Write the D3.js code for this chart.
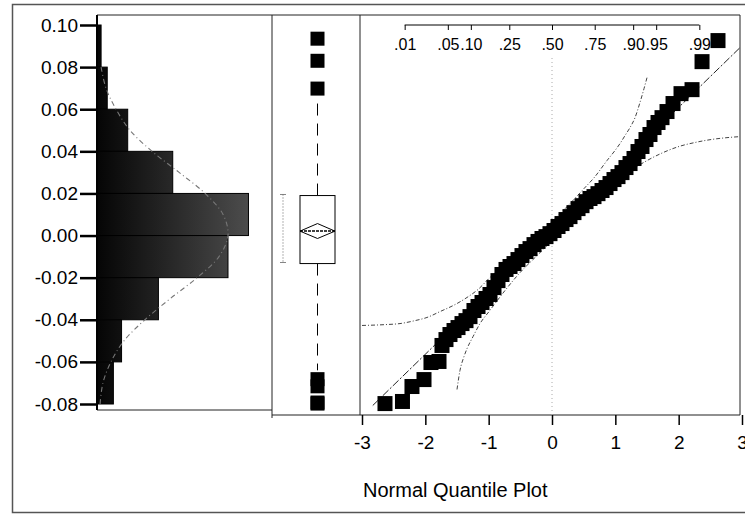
<!DOCTYPE html>
<html><head><meta charset="utf-8">
<script src="https://cdn.jsdelivr.net/npm/d3@7"></script>
<style>
html,body{margin:0;padding:0;background:#fff;}
svg{display:block;font-family:"Liberation Sans",Arial,Helvetica,sans-serif;}
</style></head><body>
<svg id="chart" width="745" height="516"></svg>
<script>
// ---------- data ----------
const yTickValues = [0.10,0.08,0.06,0.04,0.02,0.00,-0.02,-0.04,-0.06,-0.08];
const histLower = [0.08,0.06,0.04,0.02,0.00,-0.02,-0.04,-0.06,-0.08];
const histBinWidth = 0.02;
const histCounts = [2,5,15,37,74,64,30,12,8];
const densValues = [0.08,0.07,0.06,0.05,0.04,0.03,0.02,0.01,0.00,-0.01,-0.02,-0.03,-0.04,-0.05,-0.06,-0.07,-0.08];
const densCounts = [2.0,4.4,9.3,16.1,26.9,40.1,52.8,61.6,64.0,59.6,48.9,35.7,23.4,13.2,6.8,2.9,1.5];

const boxQ1 = -0.0133, boxMedian = 0.0022, boxQ3 = 0.0190;
const whiskerLo = -0.0640, whiskerHi = 0.0655;
const meanVal = 0.0021, meanLo = -0.0014, meanHi = 0.0057;
const shortHalfLo = -0.0128, shortHalfHi = 0.0195;
const outliers = [0.0935, 0.0830, 0.0698, -0.0682, -0.0716, -0.0793, -0.0798];

const qz = [-2.637,-2.361,-2.211,-2.021,-1.911,-1.784,-1.737,-1.674,-1.611,-1.547,-1.484,-1.421,-1.358,-1.295,-1.232,-1.168,-1.105,-1.042,
  -0.979,-0.916,-0.853,-0.790,-0.726,-0.663,-0.600,-0.537,-0.474,-0.411,-0.347,-0.284,-0.221,-0.158,-0.095,-0.032,
  0.032,0.095,0.158,0.221,0.284,0.347,0.411,0.474,0.537,0.600,0.663,0.726,0.790,0.853,0.916,0.979,1.042,1.105,1.168,1.232,
  1.295,1.358,1.421,1.484,1.547,1.611,1.674,1.737,1.816,1.911,2.037,2.211,2.369,2.621];
const qv = [-0.0798,-0.0788,-0.0717,-0.0684,-0.0603,-0.0598,-0.0522,-0.0494,-0.0470,-0.0451,-0.0437,-0.0418,-0.0404,-0.0385,-0.0356,-0.0337,-0.0318,-0.0299,
  -0.0280,-0.0247,-0.0214,-0.0185,-0.0161,-0.0147,-0.0133,-0.0114,-0.0095,-0.0076,-0.0062,-0.0043,-0.0028,-0.0014,-0.0005,0.0009,
  0.0024,0.0043,0.0057,0.0076,0.0090,0.0109,0.0128,0.0142,0.0161,0.0176,0.0185,0.0199,0.0214,0.0228,0.0247,0.0266,0.0280,0.0299,0.0323,0.0342,
  0.0366,0.0399,0.0423,0.0456,0.0480,0.0513,0.0537,0.0560,0.0589,0.0627,0.0674,0.0693,0.0826,0.0926];

const refZ = [-2.83, 2.97];
const refV = [-0.0807, 0.0893];

const upZ = [-3.0,-2.637,-2.40,-2.163,-1.974,-1.768,-1.532,-1.342,-1.168,-0.979,-0.742,-0.505,-0.268,0.0,0.253,0.505,0.679,0.868,0.995,1.074,1.153,1.232,1.311,1.389,1.453,1.500];
const upV = [-0.0427,-0.0423,-0.0418,-0.0404,-0.0389,-0.0361,-0.0328,-0.0294,-0.0256,-0.0199,-0.0138,-0.0076,-0.0009,0.0066,0.0142,0.0223,0.0280,0.0356,0.0404,0.0437,0.0475,0.0513,0.0560,0.0632,0.0698,0.0750];
const loZ = [-1.500,-1.453,-1.390,-1.342,-1.247,-1.137,-0.995,-0.742,-0.505,-0.253,0.0,0.253,0.505,0.758,0.995,1.247,1.500,1.753,2.005,2.258,2.511,2.763,2.969];
const loV = [-0.0731,-0.0641,-0.0575,-0.0537,-0.0480,-0.0418,-0.0361,-0.0261,-0.0176,-0.0100,-0.0024,0.0052,0.0119,0.0185,0.0247,0.0309,0.0356,0.0394,0.0423,0.0442,0.0456,0.0465,0.0470];

const xTickValues = [-3,-2,-1,0,1,2,3];
const probTicks = [0.01,0.05,0.10,0.25,0.50,0.75,0.90,0.95,0.99];
const probLabels = [".01",".05",".10",".25",".50",".75",".90",".95",".99"];
const xTitle = "Normal Quantile Plot";

// ---------- helpers ----------
function qnorm(p){ // Acklam inverse normal CDF
  const a=[-3.969683028665376e+01,2.209460984245205e+02,-2.759285104469687e+02,1.383577518672690e+02,-3.066479806614716e+01,2.506628277459239e+00];
  const b=[-5.447609879822406e+01,1.615858368580409e+02,-1.556989798598866e+02,6.680131188771972e+01,-1.328068155288572e+01];
  const c=[-7.784894002430293e-03,-3.223964580411365e-01,-2.400758277161838e+00,-2.549732539343734e+00,4.374664141464968e+00,2.938163982698783e+00];
  const d=[7.784695709041462e-03,3.224671290700398e-01,2.445134137142996e+00,3.754408661907416e+00];
  const pl=0.02425, ph=1-pl; let q,r;
  if(p<pl){q=Math.sqrt(-2*Math.log(p));return (((((c[0]*q+c[1])*q+c[2])*q+c[3])*q+c[4])*q+c[5])/((((d[0]*q+d[1])*q+d[2])*q+d[3])*q+1);}
  if(p>ph){q=Math.sqrt(-2*Math.log(1-p));return -(((((c[0]*q+c[1])*q+c[2])*q+c[3])*q+c[4])*q+c[5])/((((d[0]*q+d[1])*q+d[2])*q+d[3])*q+1);}
  q=p-0.5; r=q*q;
  return (((((a[0]*r+a[1])*r+a[2])*r+a[3])*r+a[4])*r+a[5])*q/(((((b[0]*r+b[1])*r+b[2])*r+b[3])*r+b[4])*r+1);
}

// ---------- layout ----------
const svg = d3.select("#chart");
const panelTop = 15, panelBot = 415, histBot = 410;
const histL = 97, histR = 272, boxR = 360, qR = 740;
const sq = 15;

const y = d3.scaleLinear().domain([-0.08, 0.10]).range([404, 25]);
const hx = d3.scaleLinear().domain([0, 85.5]).range([histL, histR]);
const x = d3.scaleLinear().domain([-3, 3]).range([362, 742]);
const boxC = 317.5, boxHalf = 17.5;

// outer frame
svg.append("rect").attr("x",12.5).attr("y",4.5).attr("width",760).attr("height",508)
  .attr("fill","none").attr("stroke","#555").attr("stroke-width",1.5);

// gradient for histogram bars
const defs = svg.append("defs");
const grad = defs.append("linearGradient").attr("id","hg").attr("gradientUnits","userSpaceOnUse")
  .attr("x1",histL).attr("x2",250).attr("y1",0).attr("y2",0);
grad.append("stop").attr("offset","0%").attr("stop-color","#050505");
grad.append("stop").attr("offset","35%").attr("stop-color","#1e1e1e");
grad.append("stop").attr("offset","100%").attr("stop-color","#4d4d4d");

// panel lines
const frame = svg.append("g").attr("stroke","#222").attr("fill","none");
frame.append("line").attr("x1",histL).attr("x2",qR).attr("y1",panelTop).attr("y2",panelTop).attr("stroke-width",1);
frame.append("line").attr("x1",histL).attr("x2",histR).attr("y1",histBot).attr("y2",histBot).attr("stroke-width",1);
frame.append("line").attr("x1",histR).attr("x2",qR).attr("y1",panelBot).attr("y2",panelBot).attr("stroke-width",1.2);
frame.append("line").attr("x1",histR).attr("x2",histR).attr("y1",panelTop).attr("y2",panelBot+3).attr("stroke-width",1);
frame.append("line").attr("x1",boxR).attr("x2",boxR).attr("y1",panelTop).attr("y2",panelBot).attr("stroke-width",1);
frame.append("line").attr("x1",qR).attr("x2",qR).attr("y1",panelTop).attr("y2",panelBot).attr("stroke-width",1);

// ---------- histogram ----------
svg.append("g").selectAll("rect").data(histLower).join("rect")
  .attr("x", hx(0))
  .attr("y", d => y(d + histBinWidth))
  .attr("width", (d,i) => hx(histCounts[i]) - hx(0))
  .attr("height", d => y(d) - y(d + histBinWidth))
  .attr("fill","url(#hg)").attr("stroke","#000").attr("stroke-width",1);

const densLine = d3.line().x((d,i)=>hx(densCounts[i])).y(d=>y(d)).curve(d3.curveCatmullRom);
svg.append("path").attr("d", densLine(densValues)).attr("fill","none")
  .attr("stroke","#777").attr("stroke-width",1.1).attr("stroke-dasharray","5,3,1,3");

// y axis
const gy = svg.append("g").attr("transform",`translate(${histL},0)`)
  .call(d3.axisLeft(y).tickValues(yTickValues).tickFormat(d=>d.toFixed(2)).tickSize(17).tickPadding(2));
gy.select(".domain").remove();
gy.attr("font-size",19).attr("font-family",null);
gy.selectAll(".tick line").attr("stroke","#000").attr("stroke-width",2.5);
gy.selectAll(".tick text").attr("fill","#000");
svg.append("line").attr("x1",histL).attr("x2",histL).attr("y1",panelTop).attr("y2",histBot)
  .attr("stroke","#000").attr("stroke-width",2);

// ---------- box plot ----------
const bp = svg.append("g").attr("stroke","#000").attr("fill","none");
bp.append("line").attr("x1",boxC).attr("x2",boxC).attr("y1",y(boxQ3)).attr("y2",y(whiskerHi))
  .attr("stroke-dasharray","12,8").attr("stroke-width",1);
bp.append("line").attr("x1",boxC).attr("x2",boxC).attr("y1",y(boxQ1)).attr("y2",y(whiskerLo))
  .attr("stroke-dasharray","12,8").attr("stroke-width",1);
bp.append("rect").attr("x",boxC-boxHalf).attr("y",y(boxQ3)).attr("width",boxHalf*2)
  .attr("height",y(boxQ1)-y(boxQ3)).attr("fill","#fff").attr("stroke-width",1);
bp.append("line").attr("x1",boxC-boxHalf).attr("x2",boxC+boxHalf).attr("y1",y(boxMedian)).attr("y2",y(boxMedian))
  .attr("stroke-width",1.5).attr("stroke-dasharray","3,1");
bp.append("path").attr("d",`M${boxC-boxHalf},${y(meanVal)}L${boxC},${y(meanHi)}L${boxC+boxHalf},${y(meanVal)}L${boxC},${y(meanLo)}Z`)
  .attr("stroke-width",1);
// shortest half bracket
bp.append("line").attr("x1",283).attr("x2",283).attr("y1",y(shortHalfHi)).attr("y2",y(shortHalfLo))
  .attr("stroke","#666").attr("stroke-dasharray","1,2");
[shortHalfHi, shortHalfLo].forEach(v=>{
  bp.append("line").attr("x1",280).attr("x2",286).attr("y1",y(v)).attr("y2",y(v)).attr("stroke","#666").attr("stroke-width",0.8);
});
svg.append("g").selectAll("rect").data(outliers).join("rect")
  .attr("x",boxC-7).attr("y",d=>y(d)-7).attr("width",14).attr("height",14).attr("fill","#000");

// ---------- quantile plot ----------
svg.append("line").attr("x1",x(0)).attr("x2",x(0)).attr("y1",58).attr("y2",panelBot)
  .attr("stroke","#aaa").attr("stroke-width",1).attr("stroke-dasharray","1,3");

const bandLine = d3.line().x(d=>x(d[0])).y(d=>y(d[1])).curve(d3.curveMonotoneX);
svg.append("path").attr("d", bandLine(upZ.map((z,i)=>[z,upV[i]]))).attr("fill","none")
  .attr("stroke","#444").attr("stroke-width",1).attr("stroke-dasharray","4,2,1,2");
svg.append("path").attr("d", bandLine(loZ.map((z,i)=>[z,loV[i]]))).attr("fill","none")
  .attr("stroke","#444").attr("stroke-width",1).attr("stroke-dasharray","4,2,1,2");
svg.append("line").attr("x1",x(refZ[0])).attr("y1",y(refV[0])).attr("x2",x(refZ[1])).attr("y2",y(refV[1]))
  .attr("stroke","#222").attr("stroke-width",1).attr("stroke-dasharray","8,2,2,2");

const qpts = qz.map((z,i)=>[z,qv[i]]);
svg.append("g").selectAll("rect").data(qpts).join("rect")
  .attr("x",d=>x(d[0])-sq/2).attr("y",d=>y(d[1])-sq/2).attr("width",sq).attr("height",sq).attr("fill","#000");

// bottom axis
const gx = svg.append("g").attr("transform",`translate(0,${panelBot})`)
  .call(d3.axisBottom(x).tickValues(xTickValues).tickFormat(d=>String(d)).tickSize(10).tickPadding(11));
gx.select(".domain").remove();
gx.attr("font-size",19).attr("font-family",null);
gx.selectAll(".tick line").attr("stroke","#000").attr("stroke-width",1.5);
gx.selectAll(".tick text").attr("fill","#000");

// top probability axis
const gp = svg.append("g").attr("transform","translate(0,25)")
  .call(d3.axisBottom(x).tickValues(probTicks.map(qnorm)).tickFormat((d,i)=>probLabels[i]).tickSize(5).tickPadding(9));
gp.select(".domain").remove();
gp.attr("font-size",16).attr("font-family",null);
gp.selectAll(".tick line").attr("stroke","#000").attr("stroke-width",1);
gp.selectAll(".tick text").attr("fill","#000");
svg.append("line").attr("x1",x(qnorm(probTicks[0]))).attr("x2",x(qnorm(probTicks[probTicks.length-1])))
  .attr("y1",25).attr("y2",25).attr("stroke","#000").attr("stroke-width",1);

// title
svg.append("text").attr("x",363).attr("y",497).attr("font-size",20).attr("fill","#000").text(xTitle);
</script>
</body></html>
